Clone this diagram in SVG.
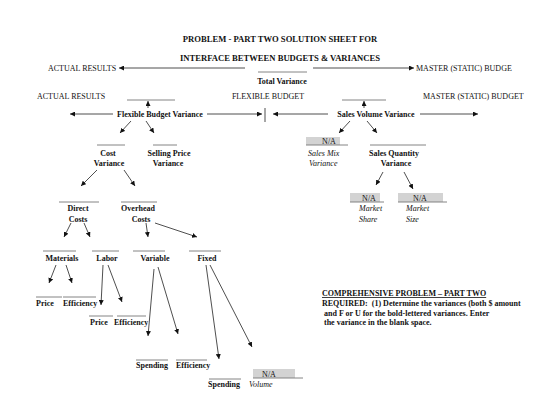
<svg xmlns="http://www.w3.org/2000/svg" width="560" height="408" viewBox="0 0 560 408">
<style>
text{font-family:"Liberation Serif","Times New Roman",serif;font-size:8px;fill:#111}
.b{font-weight:bold}
.i{font-style:italic}
.m{text-anchor:middle}
.t{font-size:8.6px;font-weight:bold;text-anchor:middle}
.ul{stroke:#777;stroke-width:0.9}
.na{fill:#d3d3d3}
.c line{stroke:#222;stroke-width:0.8}
.c line.a{marker-end:url(#ah)}
</style>
<defs>
<marker id="ah" viewBox="0 0 10 10" refX="10" refY="5" markerWidth="5" markerHeight="5" markerUnits="userSpaceOnUse" orient="auto">
<path d="M0,0 L10,5 L0,10 z" fill="#111"/>
</marker>
</defs>
<rect width="560" height="408" fill="#fff"/>

<g id="title">
<text class="t" x="280" y="42">PROBLEM - PART TWO SOLUTION SHEET FOR</text>
<text class="t" x="280" y="61">INTERFACE BETWEEN BUDGETS &amp; VARIANCES</text>
</g>

<g id="actual-results-1"><text x="48" y="71">ACTUAL RESULTS</text></g>
<g id="master-budget-1"><text x="416" y="71">MASTER (STATIC) BUDGE</text></g>
<g id="total-variance">
<line class="ul" x1="258" y1="72" x2="307" y2="72"/>
<text class="b m" x="282" y="84">Total Variance</text>
</g>

<g id="actual-results-2"><text x="37" y="99">ACTUAL RESULTS</text></g>
<g id="flexible-budget"><text class="m" x="268" y="99">FLEXIBLE BUDGET</text></g>
<g id="master-budget-2"><text x="423" y="99">MASTER (STATIC) BUDGET</text></g>

<g id="flexible-budget-variance">
<line class="ul" x1="127" y1="100" x2="175" y2="100"/>
<text class="b m" x="160" y="117">Flexible Budget Variance</text>
</g>
<g id="sales-volume-variance">
<line class="ul" x1="342" y1="100" x2="386" y2="100"/>
<text class="b m" x="376" y="117">Sales Volume Variance</text>
</g>

<g id="cost-variance">
<line class="ul" x1="97" y1="145" x2="125" y2="145"/>
<text class="b m" x="108" y="156">Cost</text>
<text class="b m" x="109" y="166">Variance</text>
</g>
<g id="selling-price-variance">
<line class="ul" x1="153" y1="145" x2="177" y2="145"/>
<text class="b m" x="169" y="156">Selling Price</text>
<text class="b m" x="168" y="166">Variance</text>
</g>
<g id="sales-mix-variance">
<rect class="na" x="306" y="137" width="34" height="8"/>
<line class="ul" x1="306" y1="145" x2="348" y2="145"/>
<text class="m" x="329" y="144">N/A</text>
<text class="i" x="308" y="156">Sales Mix</text>
<text class="i" x="309" y="166">Variance</text>
</g>
<g id="sales-quantity-variance">
<line class="ul" x1="370" y1="145" x2="426" y2="145"/>
<text class="b m" x="394" y="156">Sales Quantity</text>
<text class="b m" x="396" y="166">Variance</text>
</g>

<g id="direct-costs">
<line class="ul" x1="59" y1="202" x2="99" y2="202"/>
<text class="b m" x="78" y="211">Direct</text>
<text class="b m" x="78" y="222">Costs</text>
</g>
<g id="overhead-costs">
<line class="ul" x1="121" y1="202" x2="157" y2="202"/>
<text class="b m" x="138" y="211">Overhead</text>
<text class="b m" x="141" y="222">Costs</text>
</g>
<g id="market-share">
<rect class="na" x="350" y="193" width="30" height="9"/>
<line class="ul" x1="350" y1="202" x2="384" y2="202"/>
<text class="m" x="369" y="201">N/A</text>
<text class="i" x="359" y="211">Market</text>
<text class="i" x="359" y="222">Share</text>
</g>
<g id="market-size">
<rect class="na" x="398" y="193" width="45" height="9"/>
<line class="ul" x1="398" y1="202" x2="447" y2="202"/>
<text class="m" x="420" y="201">N/A</text>
<text class="i" x="406" y="211">Market</text>
<text class="i" x="406" y="222">Size</text>
</g>

<g id="materials">
<line class="ul" x1="43" y1="251" x2="76" y2="251"/>
<text class="b m" x="62" y="261">Materials</text>
</g>
<g id="labor">
<line class="ul" x1="92" y1="251" x2="119" y2="251"/>
<text class="b m" x="107" y="261">Labor</text>
</g>
<g id="variable">
<line class="ul" x1="133" y1="251" x2="165" y2="251"/>
<text class="b m" x="155" y="261">Variable</text>
</g>
<g id="fixed">
<line class="ul" x1="189" y1="251" x2="221" y2="251"/>
<text class="b m" x="207" y="261">Fixed</text>
</g>

<g id="materials-price">
<line class="ul" x1="36" y1="297" x2="62" y2="297"/>
<text class="b" x="36" y="306">Price</text>
</g>
<g id="materials-efficiency">
<line class="ul" x1="63" y1="297" x2="96" y2="297"/>
<text class="b" x="63" y="306">Efficiency</text>
</g>
<g id="labor-price">
<line class="ul" x1="89" y1="316" x2="113" y2="316"/>
<text class="b" x="90" y="325">Price</text>
</g>
<g id="labor-efficiency">
<line class="ul" x1="117" y1="316" x2="146" y2="316"/>
<text class="b" x="114" y="325">Efficiency</text>
</g>
<g id="variable-spending">
<line class="ul" x1="136" y1="360" x2="168" y2="360"/>
<text class="b" x="136" y="368">Spending</text>
</g>
<g id="variable-efficiency">
<line class="ul" x1="176" y1="360" x2="207" y2="360"/>
<text class="b" x="176" y="368">Efficiency</text>
</g>
<g id="fixed-spending">
<line class="ul" x1="209" y1="379" x2="241" y2="379"/>
<text class="b" x="208" y="387">Spending</text>
</g>
<g id="fixed-volume">
<rect class="na" x="253" y="369" width="42" height="9"/>
<line class="ul" x1="253" y1="378" x2="303" y2="378"/>
<text class="m" x="269" y="377">N/A</text>
<text class="i" x="249" y="387">Volume</text>
</g>

<g id="instructions">
<text class="b" x="322" y="296" text-decoration="underline">COMPREHENSIVE PROBLEM – PART TWO</text>
<text class="b" x="322" y="306" xml:space="preserve">REQUIRED:  (1) Determine the variances (both $ amount</text>
<text class="b" x="324" y="316">and F or U for the bold-lettered variances. Enter</text>
<text class="b" x="324" y="325">the variance in the blank space.</text>
</g>

<g id="connectors" class="c">
<line class="a" x1="245" y1="68" x2="119" y2="68"/>
<line class="a" x1="313" y1="68" x2="414" y2="68"/>
<line class="a" x1="148" y1="108" x2="148" y2="101"/>
<line class="a" x1="113" y1="114" x2="70" y2="114"/>
<line class="a" x1="207" y1="114" x2="262" y2="114"/>
<line x1="265" y1="108" x2="265" y2="122"/>
<line class="a" x1="328" y1="114" x2="273" y2="114"/>
<line class="a" x1="420" y1="114" x2="478" y2="114"/>
<line class="a" x1="364" y1="108" x2="364" y2="101"/>
<line class="a" x1="131" y1="121" x2="120" y2="133"/>
<line class="a" x1="146" y1="121" x2="154" y2="133"/>
<line class="a" x1="350" y1="121" x2="339" y2="133"/>
<line class="a" x1="367" y1="121" x2="377" y2="133"/>
<line class="a" x1="97" y1="170" x2="81" y2="186"/>
<line class="a" x1="124" y1="170" x2="135" y2="186"/>
<line class="a" x1="383" y1="172" x2="376" y2="185"/>
<line class="a" x1="404" y1="172" x2="413" y2="189"/>
<line class="a" x1="71" y1="223" x2="64" y2="237"/>
<line class="a" x1="84" y1="223" x2="90" y2="237"/>
<line class="a" x1="146" y1="223" x2="148" y2="237"/>
<line class="a" x1="155" y1="223" x2="197" y2="237"/>
<line class="a" x1="56" y1="265" x2="49" y2="283"/>
<line class="a" x1="66" y1="265" x2="72" y2="283"/>
<line class="a" x1="103" y1="265" x2="101" y2="305"/>
<line class="a" x1="108" y1="265" x2="122" y2="302"/>
<line class="a" x1="154" y1="269" x2="148" y2="336"/>
<line class="a" x1="158" y1="267" x2="178" y2="334"/>
<line class="a" x1="206" y1="265" x2="219" y2="359"/>
<line class="a" x1="210" y1="265" x2="252" y2="347"/>
</g>
</svg>
